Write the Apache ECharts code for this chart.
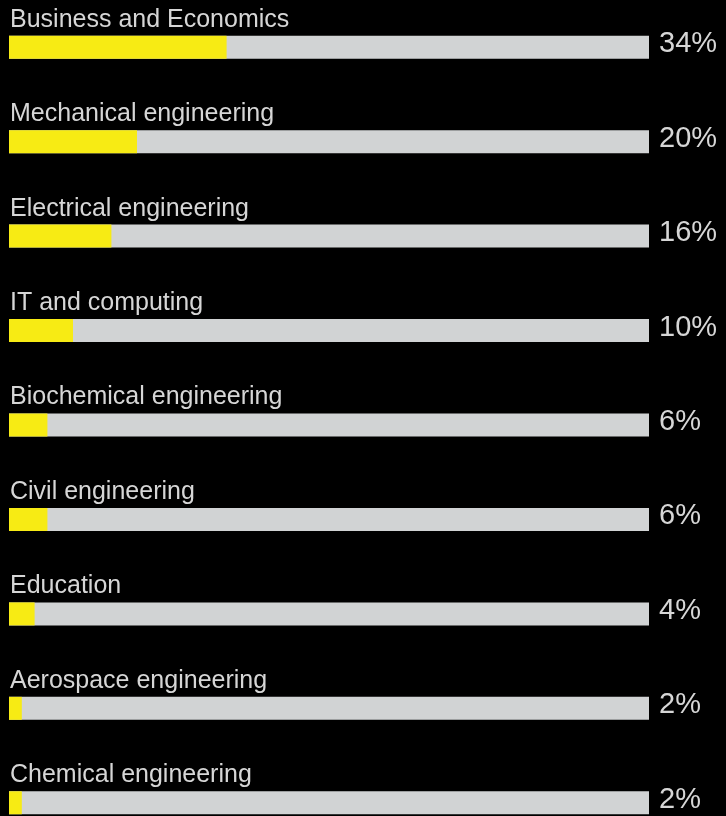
<!DOCTYPE html>
<html>
<head>
<meta charset="utf-8">
<title>Fields of study</title>
<script src="https://cdn.jsdelivr.net/npm/echarts@6/dist/echarts.min.js"></script>
<style>
  html, body { margin: 0; padding: 0; background: #000; overflow: hidden; }
  #chart { width: 726px; height: 850px; }
</style>
</head>
<body>
<div id="chart"></div>
<script>
// Share of students per field of study (percent)
const categories = [
  'Business and Economics',
  'Mechanical engineering',
  'Electrical engineering',
  'IT and computing',
  'Biochemical engineering',
  'Civil engineering',
  'Education',
  'Aerospace engineering',
  'Chemical engineering'
];
const shares = [34, 20, 16, 10, 6, 6, 4, 2, 2];
const scaleMax = 100;

const FONT = '"Liberation Sans", Arial, Helvetica, sans-serif';
const TEXT = '#D6D6D6';

const chart = echarts.init(document.getElementById('chart'), null, { renderer: 'canvas' });

chart.setOption({
  backgroundColor: '#000000',
  animation: false,
  grid: { left: 9, right: 77, top: 0, bottom: 0, containLabel: false },
  xAxis: {
    type: 'value', min: 0, max: scaleMax,
    show: false
  },
  yAxis: {
    type: 'category', data: categories, inverse: true,
    show: false
  },
  series: [
    {
      // full-width grey track, carries the field name
      type: 'bar',
      data: categories.map(() => scaleMax),
      barWidth: 23,
      barGap: '-100%',
      itemStyle: { color: '#D1D3D4' },
      silent: true,
      label: {
        show: true,
        position: [1, -16],
        align: 'left',
        verticalAlign: 'middle',
        formatter: p => p.name,
        fontFamily: FONT,
        fontSize: 25,
        color: TEXT
      },
      z: 1
    },
    {
      // share bars
      type: 'bar',
      data: shares,
      barWidth: 23,
      barGap: '-100%',
      itemStyle: { color: '#F7EB14' },
      label: { show: false },
      z: 2
    },
    {
      // transparent overlay placing the percentage past the end of the track
      type: 'bar',
      data: categories.map(() => scaleMax),
      barWidth: 23,
      barGap: '-100%',
      itemStyle: { color: 'rgba(0,0,0,0)' },
      silent: true,
      label: {
        show: true,
        position: 'right',
        distance: 10,
        offset: [0, -3],
        formatter: p => shares[p.dataIndex] + '%',
        fontFamily: FONT,
        fontSize: 29,
        color: TEXT
      },
      z: 3
    }
  ]
});
</script>
</body>
</html>
